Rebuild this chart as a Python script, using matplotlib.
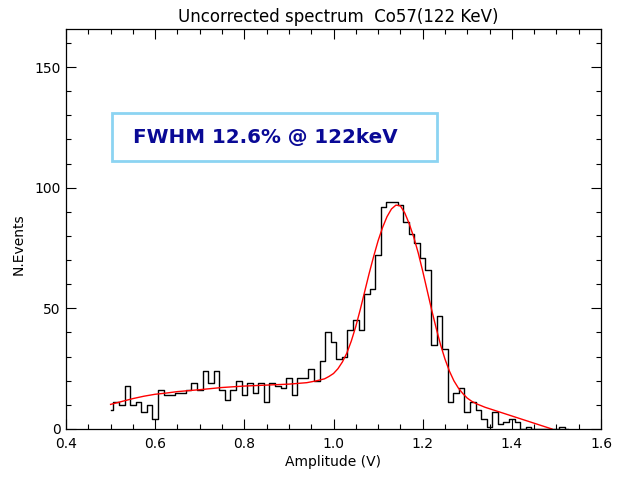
import numpy as np
import matplotlib
matplotlib.use('Agg')
import matplotlib.pyplot as plt
from matplotlib.patches import Rectangle
from matplotlib.ticker import MultipleLocator

# histogram: bin centres start at 0.5, step 0.0125 V
bin_start = 0.5
bin_width = 0.0125
counts = [8, 11, 10, 18, 10, 11, 7, 10, 4, 16,
          14, 14, 15, 15, 16, 19, 16, 24, 19, 24,
          16, 12, 16, 20, 14, 19, 15, 19, 11, 19,
          18, 17, 21, 14, 21, 21, 25, 20, 28, 40,
          36, 29, 30, 41, 45, 41, 56, 58, 72, 92,
          94, 94, 93, 86, 81, 77, 71, 66, 35, 47,
          33, 11, 15, 17, 7, 11, 8, 4, 1, 7,
          2, 3, 4, 3, 0, 1, 0, 0, 0, 0,
          0, 1, 0]

# fitted curve
fit_x = [0.50, 0.525, 0.55, 0.575, 0.60, 0.625, 0.65, 0.70, 0.75, 0.80,
         0.85, 0.90, 0.94, 0.96, 0.98, 0.99, 1.00, 1.01, 1.02, 1.03,
         1.04, 1.05, 1.06, 1.07, 1.08, 1.09, 1.10, 1.11, 1.12, 1.13,
         1.14, 1.15, 1.16, 1.17, 1.18, 1.19, 1.20, 1.21, 1.22, 1.23,
         1.24, 1.25, 1.26, 1.27, 1.28, 1.29, 1.30, 1.31, 1.32, 1.34,
         1.36, 1.38, 1.40, 1.42, 1.44, 1.46, 1.48, 1.49]
fit_y = [10.2, 11.4, 12.6, 13.6, 14.4, 14.9, 15.5, 16.3, 17.2, 17.8,
         18.2, 18.6, 19.2, 19.9, 20.8, 21.8, 23.0, 25.0, 27.8, 31.5,
         36.5, 42.5, 49.5, 57.0, 64.5, 71.5, 78.0, 83.5, 88.0, 91.2,
         92.8, 92.5, 89.5, 85.0, 79.5, 73.0, 65.5, 57.5, 49.5, 42.0,
         35.0, 29.0, 24.0, 20.0, 17.0, 14.7, 12.8, 11.5, 10.5, 9.0,
         7.8, 6.6, 5.4, 4.2, 3.0, 1.8, 0.6, 0.0]

amp = bin_start + bin_width * np.arange(len(counts))

fig = plt.figure(figsize=(6.18, 4.78), dpi=100)
ax = fig.add_axes([66 / 618, 1 - 429 / 478, 535 / 618, 400 / 478])

ax.plot(amp, counts, drawstyle='steps-mid', color='black', lw=1.0)
ax.plot(fit_x, fit_y, color='red', lw=1.0)

ax.set_xlim(0.4, 1.6)
ax.set_ylim(0, 165.8)
ax.xaxis.set_major_locator(MultipleLocator(0.2))
ax.xaxis.set_minor_locator(MultipleLocator(0.05))
ax.yaxis.set_major_locator(MultipleLocator(50))
ax.yaxis.set_minor_locator(MultipleLocator(10))
ax.xaxis.set_major_formatter(matplotlib.ticker.FormatStrFormatter('%.1f'))
ax.tick_params(which='both', direction='in', top=True, right=True, labelsize=10)
ax.tick_params(which='major', length=7, width=0.8)
ax.tick_params(which='minor', length=3.5, width=0.8)
ax.tick_params(axis='x', pad=6)
ax.tick_params(axis='y', pad=4)
for s in ax.spines.values():
    s.set_linewidth(0.9)

fig.text(338 / 618, 1 - 17 / 478, 'Uncorrected spectrum  Co57(122 KeV)',
         ha='center', va='center', fontsize=12)
fig.text(333 / 618, 1 - 462 / 478, 'Amplitude (V)', ha='center', va='center', fontsize=10)
fig.text(19 / 618, 1 - 244 / 478, 'N.Events', ha='center', va='center',
         rotation=90, fontsize=10)

fig.patches.append(Rectangle((112 / 618, 1 - 161 / 478), 325 / 618, 48 / 478,
                             transform=fig.transFigure, fill=False,
                             edgecolor='#8cd4f2', lw=2.0))
fig.text(133 / 618, 1 - 137 / 478, 'FWHM 12.6% @ 122keV', ha='left', va='center',
         fontsize=14.3, fontweight='bold', color='#0a0a96')

fig.savefig('out.png', dpi=100)
